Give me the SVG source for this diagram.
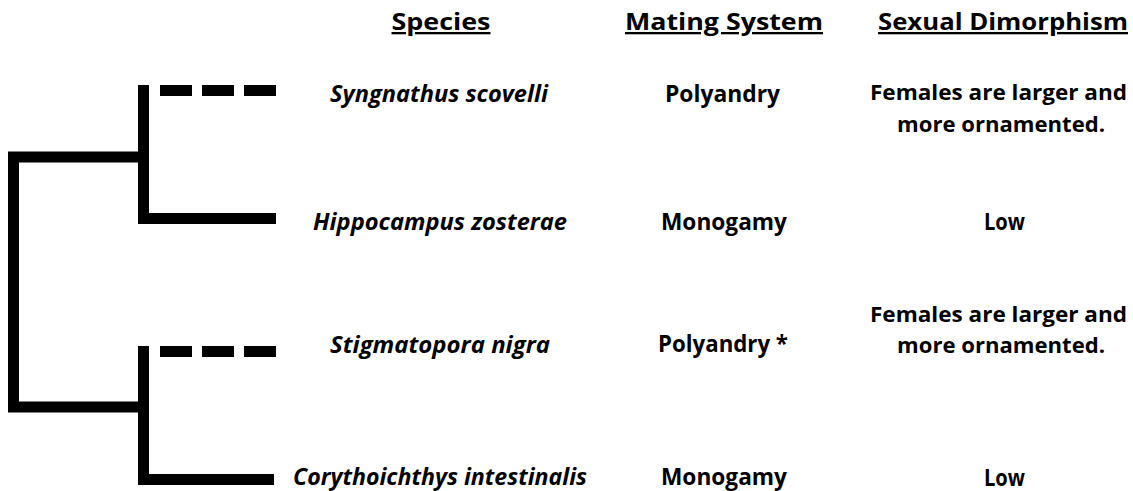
<svg xmlns="http://www.w3.org/2000/svg" width="1133" height="491" viewBox="0 0 1133 491">
<style>
.t{font-family:"Open Sans","Noto Sans","Liberation Sans",sans-serif;font-weight:bold;font-size:24px;fill:#000;text-anchor:middle}
.h{font-size:23px;text-decoration:underline}
.s{font-size:22px}
.i{font-style:italic}
.br{fill:none;stroke:#000;stroke-width:11;stroke-linecap:butt;stroke-linejoin:miter}
.dash{stroke-dasharray:32 10}
</style>
<rect width="1133" height="491" fill="#fff"/>
<g id="connectors">
<path class="br" d="M143.5 157 H13.5 V407 H143.5"/>
<path class="br" d="M143.5 85 V218.5 H276"/>
<path class="br dash" d="M160 90.5 H276"/>
<path class="br" d="M143.5 346 V479.5 H274"/>
<path class="br dash" d="M160 351.5 H276"/>
</g>
<g id="headers">
<text class="t h" x="441" y="30" textLength="99" lengthAdjust="spacingAndGlyphs">Species</text>
<text class="t h" x="724" y="30" textLength="198" lengthAdjust="spacingAndGlyphs">Mating System</text>
<text class="t h" x="1003" y="30" textLength="250" lengthAdjust="spacingAndGlyphs">Sexual Dimorphism</text>
</g>
<g id="row1">
<text class="t i" x="439" y="102" textLength="218" lengthAdjust="spacingAndGlyphs">Syngnathus scovelli</text>
<text class="t" x="722.5" y="102" textLength="115" lengthAdjust="spacingAndGlyphs">Polyandry</text>
<text class="t s" x="998.5" y="100" textLength="257" lengthAdjust="spacingAndGlyphs">Females are larger and</text>
<text class="t s" x="1001" y="132" textLength="208" lengthAdjust="spacingAndGlyphs">more ornamented.</text>
</g>
<g id="row2">
<text class="t i" x="440" y="230" textLength="254" lengthAdjust="spacingAndGlyphs">Hippocampus zosterae</text>
<text class="t" x="724" y="230" textLength="126" lengthAdjust="spacingAndGlyphs">Monogamy</text>
<text class="t" x="1004.5" y="230" textLength="41" lengthAdjust="spacingAndGlyphs">Low</text>
</g>
<g id="row3">
<text class="t i" x="440" y="353" textLength="220" lengthAdjust="spacingAndGlyphs">Stigmatopora nigra</text>
<text class="t" x="723" y="352" textLength="130" lengthAdjust="spacingAndGlyphs">Polyandry *</text>
<text class="t s" x="998.5" y="322" textLength="257" lengthAdjust="spacingAndGlyphs">Females are larger and</text>
<text class="t s" x="1001" y="353" textLength="208" lengthAdjust="spacingAndGlyphs">more ornamented.</text>
</g>
<g id="row4">
<text class="t i" x="440" y="485" textLength="294" lengthAdjust="spacingAndGlyphs">Corythoichthys intestinalis</text>
<text class="t" x="724" y="485" textLength="126" lengthAdjust="spacingAndGlyphs">Monogamy</text>
<text class="t" x="1004.5" y="486" textLength="41" lengthAdjust="spacingAndGlyphs">Low</text>
</g>
</svg>
